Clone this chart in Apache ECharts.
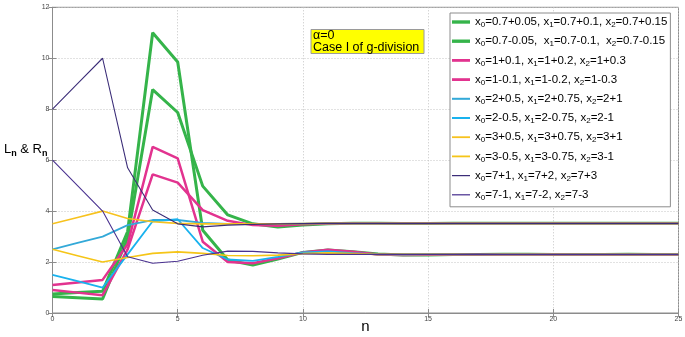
<!DOCTYPE html>
<html><head><meta charset="utf-8">
<script src="https://cdn.jsdelivr.net/npm/echarts@6/dist/echarts.min.js"></script>
<style>html,body{margin:0;padding:0;background:#fff}#c{width:685px;height:337px}</style>
</head><body><div id="c"></div>
<script>
// n = 0..25
const nValues = [0,1,2,3,4,5,6,7,8,9,10,11,12,13,14,15,16,17,18,19,20,21,22,23,24,25];
const xTicks = [0,5,10,15,20,25];
const yTicks = [0,2,4,6,8,10,12];

const seriesNames = [
  "x0=0.7+0.05, x1=0.7+0.1, x2=0.7+0.15",
  "x0=0.7-0.05,  x1=0.7-0.1,  x2=0.7-0.15",
  "x0=1+0.1, x1=1+0.2, x2=1+0.3",
  "x0=1-0.1, x1=1-0.2, x2=1-0.3",
  "x0=2+0.5, x1=2+0.75, x2=2+1",
  "x0=2-0.5, x1=2-0.75, x2=2-1",
  "x0=3+0.5, x1=3+0.75, x2=3+1",
  "x0=3-0.5, x1=3-0.75, x2=3-1",
  "x0=7+1, x1=7+2, x2=7+3",
  "x0=7-1, x1=7-2, x2=7-3"
];

const greenA = [0.75,0.80,0.85,3.2,11.0,9.85,3.25,2.08,1.88,2.12,2.38,2.47,2.40,2.32,2.28,2.28,2.30,2.30,2.31,2.31,2.30,2.30,2.30,2.31,2.30,2.30];
const greenB = [0.65,0.60,0.55,2.95,8.77,7.87,4.98,3.85,3.50,3.38,3.45,3.50,3.52,3.52,3.51,3.51,3.52,3.52,3.52,3.52,3.52,3.52,3.52,3.52,3.52,3.52];
const pinkA  = [1.10,1.20,1.30,2.7,6.52,6.07,2.80,2.00,1.95,2.15,2.38,2.48,2.40,2.30,2.28,2.29,2.30,2.30,2.30,2.30,2.31,2.30,2.30,2.30,2.30,2.30];
const pinkB  = [0.90,0.80,0.70,2.5,5.44,5.12,4.04,3.62,3.45,3.42,3.48,3.51,3.52,3.52,3.52,3.52,3.52,3.52,3.52,3.52,3.52,3.52,3.52,3.52,3.52,3.52];
const cyanA  = [2.50,2.75,3.00,3.45,3.65,3.65,3.54,3.50,3.50,3.50,3.51,3.52,3.52,3.52,3.52,3.52,3.52,3.52,3.52,3.52,3.52,3.52,3.52,3.52,3.52,3.52];
const cyanB  = [1.50,1.25,1.00,2.30,3.60,3.68,2.55,2.10,2.05,2.20,2.38,2.42,2.35,2.30,2.29,2.30,2.30,2.30,2.30,2.30,2.30,2.30,2.30,2.30,2.30,2.30];
const yellowA= [3.50,3.75,4.00,3.71,3.58,3.52,3.50,3.50,3.50,3.50,3.51,3.52,3.52,3.52,3.52,3.52,3.52,3.52,3.52,3.52,3.52,3.52,3.52,3.52,3.52,3.52];
const yellowB= [2.50,2.25,2.00,2.18,2.34,2.40,2.34,2.26,2.25,2.27,2.33,2.36,2.33,2.30,2.30,2.30,2.30,2.30,2.30,2.30,2.30,2.30,2.30,2.30,2.30,2.30];
const purpleA= [8.00,9.00,10.0,5.70,4.04,3.50,3.38,3.45,3.48,3.50,3.51,3.52,3.52,3.52,3.52,3.52,3.52,3.52,3.52,3.52,3.52,3.52,3.52,3.52,3.52,3.52];
const purpleB= [6.00,5.00,4.00,2.21,1.95,2.03,2.27,2.43,2.42,2.36,2.32,2.30,2.30,2.30,2.30,2.30,2.30,2.31,2.30,2.30,2.30,2.30,2.30,2.30,2.30,2.30];

const allValues = [greenA, greenB, pinkA, pinkB, cyanA, cyanB, yellowA, yellowB, purpleA, purpleB];
const colors = ['#35b44a','#35b44a','#e2338f','#e2338f','#33a9d8','#19b2ee','#f7c21e','#f5c518','#3b2d78','#4a3290'];
const widths = [3,3,2.5,2.5,1.8,1.8,1.6,1.6,1.1,1.1];

const chart = echarts.init(document.getElementById('c'), null, {renderer:'canvas'});
const FONT = 'Liberation Sans, Arial, sans-serif';

const series = allValues.map((vals, i) => ({
  name: seriesNames[i],
  type: 'line',
  data: nValues.map((x, k) => [x, vals[k]]),
  symbol: 'none',
  color: colors[i],
  lineStyle: { width: widths[i], color: colors[i] },
  xAxisIndex: 0, yAxisIndex: 0,
  animation: false,
  z: 2 + i
}));

const legendData = seriesNames.map((nm, i) => ({
  name: nm,
  icon: 'path://M0,0H16V' + Math.max(1, widths[i]).toFixed(1) + 'H0Z'
}));

const gridLine = { show: true, lineStyle: { color: '#c4c4c4', type: [1,2], width: 1 } };

chart.setOption({
  animation: false,
  backgroundColor: '#fff',
  grid: { left: 52.5, right: 6.5, top: 7.3, bottom: 24, show: true, borderColor: '#8c8c8c', borderWidth: 1,
          containLabel: false, outerBoundsMode: 'none' },
  xAxis: [{
    type: 'value', min: 0, max: 25, interval: 5,
    name: 'n', nameLocation: 'middle', nameGap: 6, nameMoveOverlap: false,
    nameTextStyle: { fontFamily: FONT, fontSize: 15, color: '#000' },
    axisLine: { show: true, lineStyle: { color: '#8c8c8c' } },
    axisTick: { show: true, inside: true, length: 4, lineStyle: { color: '#8c8c8c' } },
    axisLabel: { fontFamily: FONT, fontSize: 7, color: '#444', margin: 3,
      formatter: v => xTicks.includes(v) ? String(v) : '' },
    splitLine: gridLine
  },{
    type: 'value', min: 0, max: 25, interval: 5, position: 'top',
    axisLine: { show: true, lineStyle: { color: '#8c8c8c' } },
    axisTick: { show: true, inside: true, length: 4, lineStyle: { color: '#8c8c8c' } },
    axisLabel: { show: false }, splitLine: { show: false }
  }],
  yAxis: [{
    type: 'value', min: 0, max: 12, interval: 2,
    axisLine: { show: true, lineStyle: { color: '#8c8c8c' } },
    axisTick: { show: true, inside: true, length: 4, lineStyle: { color: '#8c8c8c' } },
    axisLabel: { fontFamily: FONT, fontSize: 7, color: '#444', margin: 3,
      formatter: v => yTicks.includes(v) ? String(v) : '' },
    splitLine: gridLine
  },{
    type: 'value', min: 0, max: 12, interval: 2, position: 'right',
    axisLine: { show: true, lineStyle: { color: '#8c8c8c' } },
    axisTick: { show: true, inside: true, length: 4, lineStyle: { color: '#8c8c8c' } },
    axisLabel: { show: false }, splitLine: { show: false }
  }],
  legend: {
    orient: 'vertical', left: 450, top: 13,
    padding: [2, 3, 5, 2],
    itemGap: 5.2, itemWidth: 18, itemHeight: 14,
    symbolKeepAspect: true,
    borderColor: '#8c8c8c', borderWidth: 1, backgroundColor: '#fff',
    data: legendData,
    formatter: name => name.replace(/x(\d)/g, 'x{s|$1}'),
    textStyle: {
      fontFamily: FONT, fontSize: 11.5, color: '#000', lineHeight: 14,
      rich: { s: { fontFamily: FONT, fontSize: 8, lineHeight: 8, padding: [6,0,0,0], color: '#000' } }
    },
    selectedMode: false
  },
  graphic: [
    { type: 'rect', shape: { x: 311, y: 29.5, width: 113, height: 24 },
      style: { fill: '#ffff00', stroke: '#9a9a9a', lineWidth: 1 }, z: 100 },
    { type: 'text', left: 313, top: 29.5, z: 101,
      style: { text: 'α=0\nCase I of g-division', font: '12.5px ' + FONT, fill: '#000', lineHeight: 11.5 } },
    { type: 'text', left: 4, top: 141, z: 101,
      style: { text: 'L{s|n} & R{s|n}', font: '13px ' + FONT, fill: '#000',
        rich: { s: { fontFamily: FONT, fontSize: 9, fontWeight: 'bold', lineHeight: 9, padding: [8,0,0,0], fill: '#000' } } } }
  ],
  series
});
</script>
</body></html>
